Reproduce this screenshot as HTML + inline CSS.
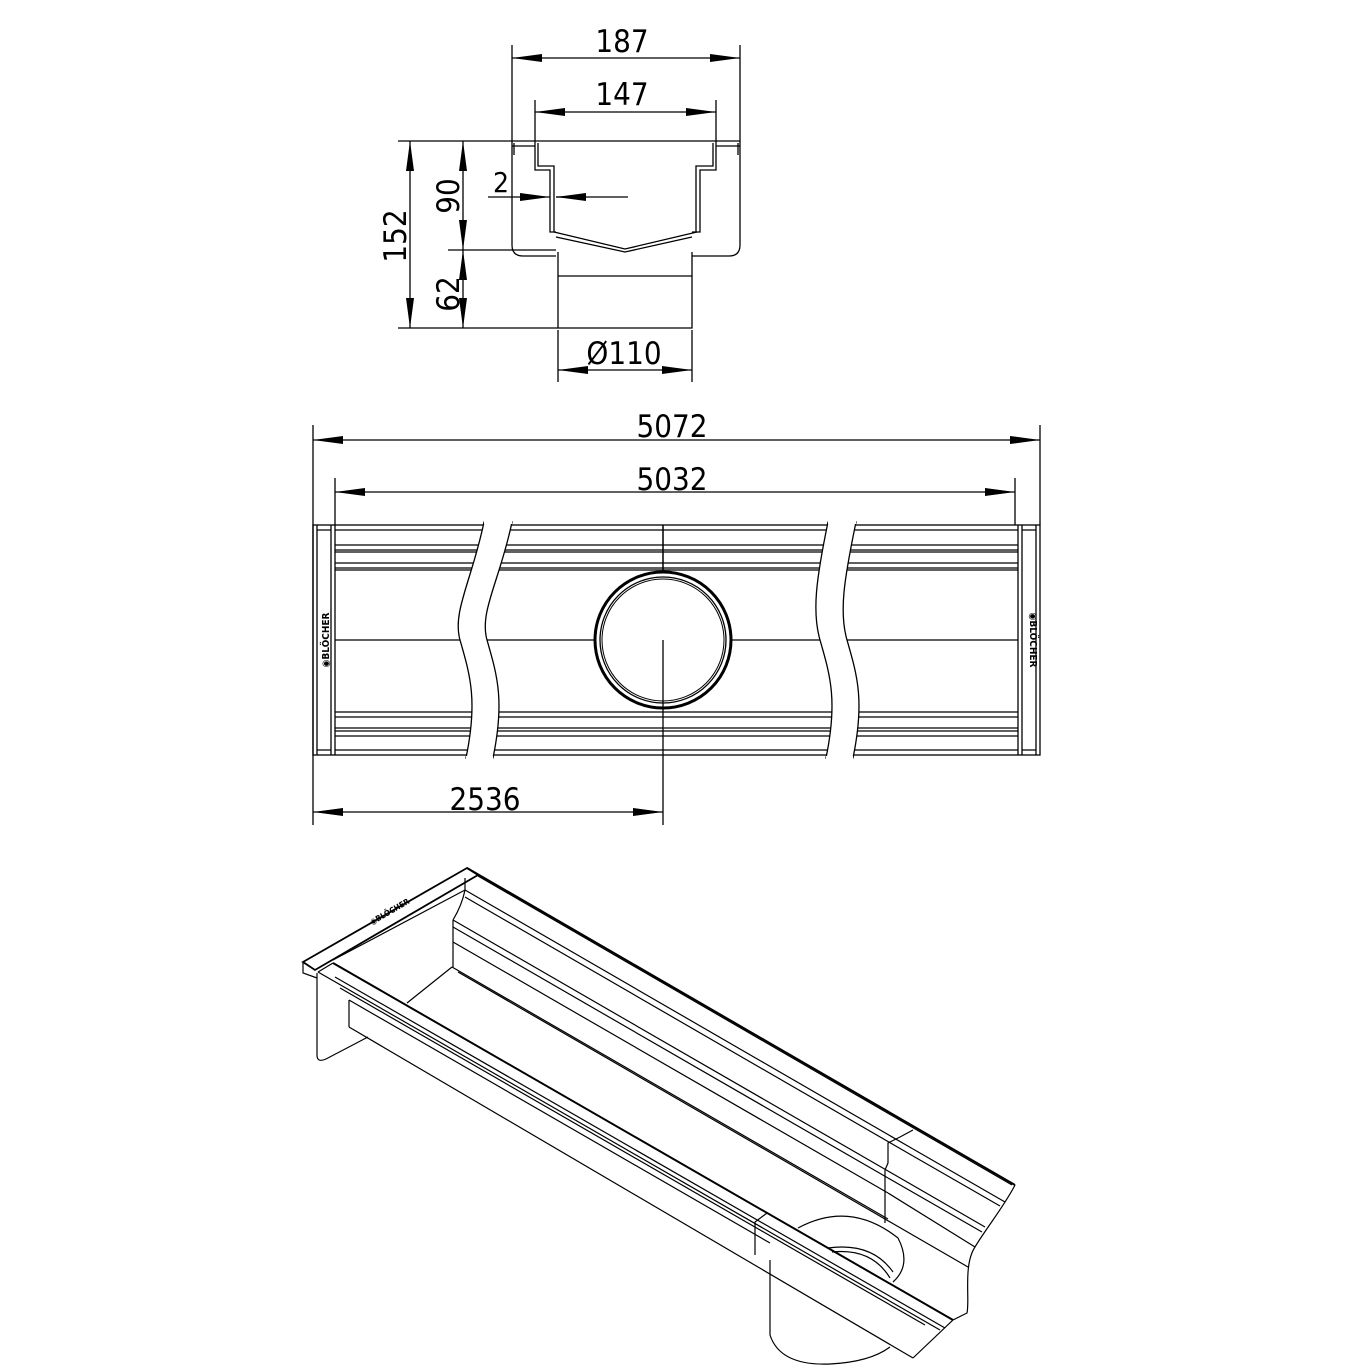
<!DOCTYPE html>
<html><head><meta charset="utf-8"><style>
html,body{margin:0;padding:0;background:#fff}
svg{display:block}
text{font-family:"DejaVu Sans Condensed","Liberation Sans",sans-serif;fill:#000}
</style></head><body>
<svg width="1366" height="1366" viewBox="0 0 1366 1366" xmlns="http://www.w3.org/2000/svg">
<defs>
<marker id="a" markerWidth="30" markerHeight="8" refX="30" refY="4" orient="auto-start-reverse" markerUnits="userSpaceOnUse"><path d="M0,0 L30,4 L0,8z" fill="#000"/></marker>
</defs>
<g stroke="#000" fill="none" stroke-width="1.3">
<line x1="512" y1="45" x2="512" y2="141"/><line x1="740" y1="45" x2="740" y2="141"/>
<line x1="512" y1="58" x2="740" y2="58" marker-start="url(#a)" marker-end="url(#a)"/>
<line x1="535" y1="100" x2="535" y2="141"/><line x1="716" y1="100" x2="716" y2="141"/>
<line x1="535" y1="112" x2="716" y2="112" marker-start="url(#a)" marker-end="url(#a)"/>
<line x1="398" y1="141" x2="512" y2="141"/>
<line x1="448" y1="250" x2="556" y2="250"/>
<line x1="398" y1="328" x2="558" y2="328"/>
<line x1="410" y1="141" x2="410" y2="328" marker-start="url(#a)" marker-end="url(#a)"/>
<line x1="463" y1="141" x2="463" y2="250" marker-start="url(#a)" marker-end="url(#a)"/>
<line x1="463" y1="250" x2="463" y2="328" marker-start="url(#a)" marker-end="url(#a)"/>
<line x1="488" y1="197" x2="550" y2="197" marker-end="url(#a)"/>
<line x1="556" y1="197" x2="628" y2="197"/>
<line x1="586" y1="197" x2="556" y2="197" marker-end="url(#a)"/>
<line x1="558" y1="330" x2="558" y2="382"/><line x1="692" y1="330" x2="692" y2="382"/>
<line x1="558" y1="370" x2="692" y2="370" marker-start="url(#a)" marker-end="url(#a)"/>
<line x1="512" y1="141" x2="740" y2="141"/>
<line x1="512" y1="146" x2="535" y2="146"/><line x1="716" y1="146" x2="740" y2="146"/>
<path d="M512,141 V245 Q512,256 523,256 H556"/>
<path d="M740,141 V245 Q740,256 729,256 H692"/>
<path d="M514,143 V155 M738,143 V155"/>
<path d="M535,141 V170 H550 V232 H556"/>
<path d="M538,143 V166 H554 V232"/>
<path d="M716,141 V170 H700 V232 H692"/>
<path d="M713,143 V166 H696 V232"/>
<path d="M554,232 L625,249 L697,232 M556,237 L625,252 L692,237"/>
<path d="M558,252 V328 H692 V252"/>
<line x1="558" y1="276" x2="692" y2="276"/>
<line x1="313" y1="425" x2="313" y2="825"/><line x1="1040" y1="425" x2="1040" y2="525"/>
<line x1="313" y1="440" x2="1040" y2="440" marker-start="url(#a)" marker-end="url(#a)"/>
<line x1="335" y1="478" x2="335" y2="525"/><line x1="1015" y1="478" x2="1015" y2="525"/>
<line x1="335" y1="492" x2="1015" y2="492" marker-start="url(#a)" marker-end="url(#a)"/>
<line x1="313" y1="812" x2="663" y2="812" marker-start="url(#a)" marker-end="url(#a)"/>
<rect x="313" y="525" width="727" height="230"/>
<path d="M317,525 V755 M331,525 V755 M335,525 V755 M317,530 H331 M317,750 H331"/>
<path d="M1018,525 V755 M1022,525 V755 M1036,525 V755 M1022,530 H1036 M1022,750 H1036"/>
<path d="M335,530 H1018 M335,545 H1018 M335,550 H1018 M335,552 H1018 M335,563 H1018 M335,568 H1018 M335,570 H1018 M335,640 H1018 M335,712 H1018 M335,717 H1018 M335,728 H1018 M335,731 H1018 M335,736 H1018 M335,750 H1018"/>
<line x1="663" y1="525" x2="663" y2="825"/>
</g>
<g stroke="#000" stroke-width="1.3" fill="#fff">
<path d="M484,522 C472,580 452,612 460,640 C470,675 478,700 466,758 L493,758 C505,700 497,675 487,640 C479,612 500,580 512,522Z"/>
<path d="M828,522 C816,580 812,612 820,640 C830,675 838,700 826,758 L853,758 C865,700 857,675 847,640 C839,612 844,580 856,522Z"/>
</g>
<path d="M466,758 H493 M484,522 H512 M828,522 H856 M826,758 H853" stroke="#fff" stroke-width="4"/>
<g stroke="#000" fill="none">
<circle cx="663" cy="640" r="68" stroke-width="3" fill="#fff"/>
<circle cx="663" cy="640" r="63" stroke-width="1.3"/>
<circle cx="663" cy="640" r="61" stroke-width="1"/>
<line x1="663" y1="640" x2="663" y2="708" stroke-width="1.3"/>
<line x1="663" y1="525" x2="663" y2="572" stroke-width="1.3"/>
</g>
<g font-size="31">
<text x="622" y="52" text-anchor="middle">187</text>
<text x="622" y="105" text-anchor="middle">147</text>
<text x="493" y="192" font-size="28">2</text>
<text x="624" y="364" text-anchor="middle">Ø110</text>
<text transform="translate(406,236) rotate(-90)" text-anchor="middle">152</text>
<text transform="translate(459,196) rotate(-90)" text-anchor="middle">90</text>
<text transform="translate(459,294) rotate(-90)" text-anchor="middle">62</text>
<text x="672" y="437" text-anchor="middle">5072</text>
<text x="672" y="490" text-anchor="middle">5032</text>
<text x="485" y="810" text-anchor="middle">2536</text>
</g>
<text transform="translate(329,640) rotate(-90)" text-anchor="middle" font-size="10" font-weight="bold">◉BLÖCHER</text>
<text transform="translate(1030,640) rotate(90)" text-anchor="middle" font-size="10" font-weight="bold">◉BLÖCHER</text>
<!-- 3D VIEW -->
<g stroke="#000" fill="none" stroke-width="1.2">
<!-- flange -->
<path d="M303,962 L467,868 L478,875 L315,970 Z" stroke-width="1.8"/>
<path d="M303,962 V973 L317,978"/>
<path d="M333,960 L465,890"/>
<!-- plate -->
<path d="M317,973 V1055 Q317,1063 326,1059 L368,1037"/>
<!-- back rim & wall -->
<path d="M467,868 L1015,1185" stroke-width="2"/>
<path d="M478,876 L1012,1185"/>
<path d="M465,890 L913,1149 M465,897 L913,1156"/>
<path d="M465,878 V890 M465,890 Q462,905 453,920"/>
<path d="M453,920 L888,1171 M453,927 L888,1178 M453,942 L888,1193"/>
<path d="M453,920 V967"/>
<path d="M452,967 L888,1219 M458,972 L968,1267"/>
<path d="M452,967 L407,1003"/>
<!-- back step region -->
<path d="M913,1130 L900,1137 L888,1143 V1163 L885,1170 V1223"/>
<path d="M913,1149 L1005,1202 M913,1156 L1000,1206 M888,1171 L985,1227 M888,1178 L982,1232 M888,1193 L975,1247"/>
<path d="M1015,1185 C1005,1205 985,1230 975,1247 C963,1265 970,1300 967,1313 L953,1320 L913,1358"/>
<!-- front rim -->
<path d="M333,963 L953,1320" stroke-width="2"/>
<path d="M318,972 L940,1330"/>
<path d="M333,963 L318,972"/>
<path d="M335,977 L945,1328 M340,988 L925,1325"/>
<path d="M349,1000 V1027 M349,1000 L770,1243"/>
<path d="M349,1027 L913,1358"/>
<path d="M767,1213 L755,1222 V1255"/>
<!-- pipe -->
<path d="M798,1228 Q850,1200 898,1238 Q912,1265 893,1282"/>
<path d="M828,1248 Q872,1242 893,1272 M832,1252 Q872,1248 890,1278"/>
<path d="M770,1260 V1335 Q780,1366 830,1364 Q870,1362 890,1347"/>
</g>
<text transform="translate(372,925) rotate(-30)" font-size="8" font-weight="bold">◉BLÖCHER</text>
</svg>
</body></html>
